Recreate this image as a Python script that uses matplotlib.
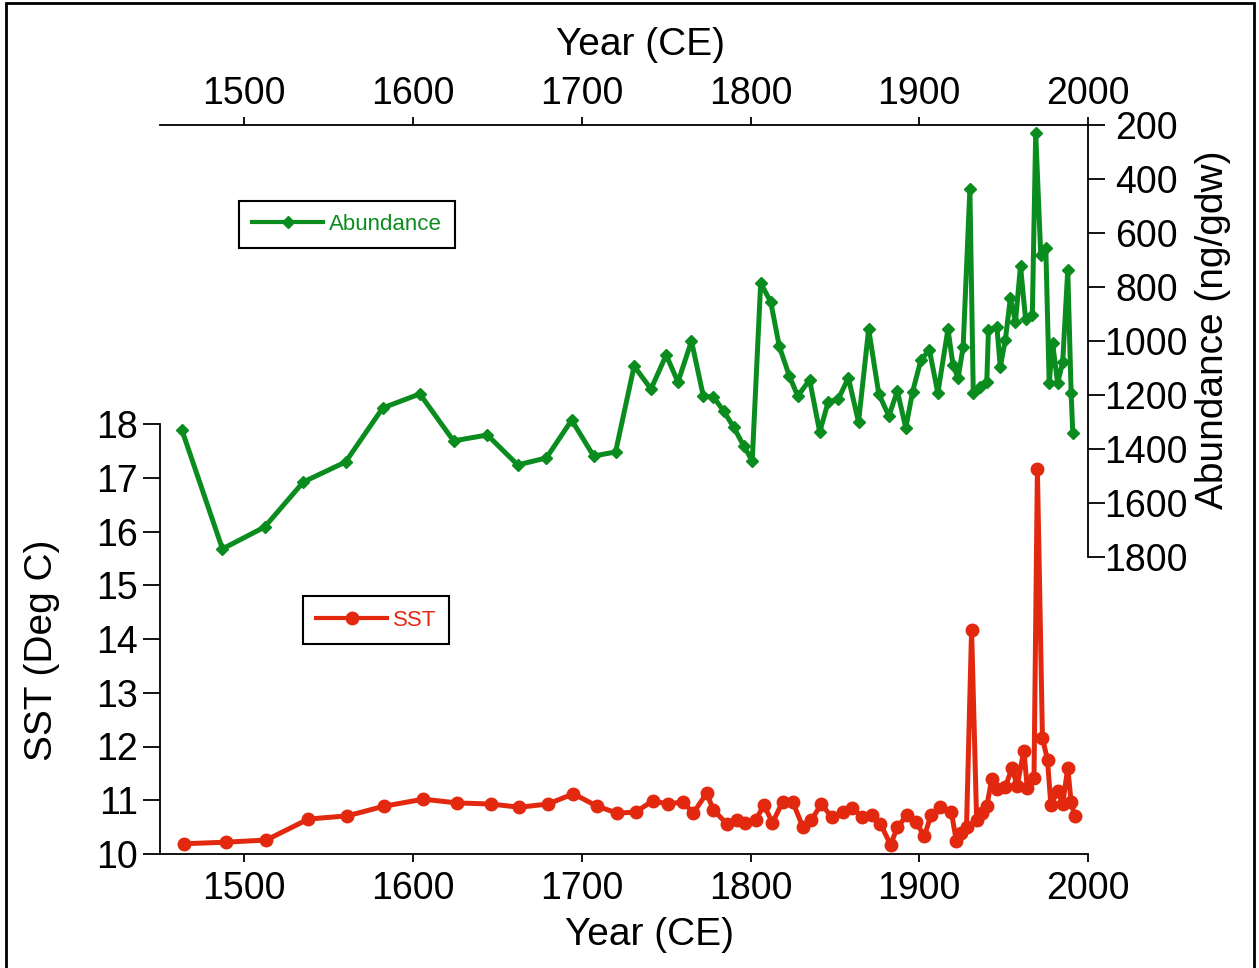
import matplotlib.pyplot as plt
from matplotlib.patches import Rectangle

plt.rcParams['font.family'] = ['Liberation Sans', 'DejaVu Sans']

# SST record (Deg C)
sst_year = [1464, 1489, 1513, 1538, 1561, 1583, 1606, 1626, 1646, 1663,
            1680, 1695, 1709, 1721, 1732, 1742, 1751, 1760, 1766, 1774,
            1778, 1786, 1792, 1797, 1803, 1808, 1813, 1819, 1825, 1831,
            1836, 1842, 1848, 1855, 1860, 1866, 1872, 1877, 1883, 1887,
            1893, 1898, 1903, 1907, 1912, 1919, 1922, 1925, 1928, 1931,
            1934, 1937, 1940, 1943, 1946, 1951, 1955, 1958, 1962, 1964,
            1968, 1970, 1973, 1976, 1978, 1982, 1985, 1988, 1990, 1992]
sst = [10.19, 10.22, 10.26, 10.65, 10.71, 10.89, 11.02, 10.95, 10.93, 10.87,
       10.93, 11.12, 10.89, 10.76, 10.78, 10.99, 10.93, 10.97, 10.76, 11.13,
       10.82, 10.56, 10.63, 10.58, 10.63, 10.91, 10.58, 10.97, 10.97, 10.50,
       10.63, 10.93, 10.69, 10.78, 10.86, 10.69, 10.73, 10.56, 10.17, 10.50,
       10.73, 10.60, 10.33, 10.73, 10.87, 10.78, 10.24, 10.39, 10.50, 14.17,
       10.63, 10.76, 10.89, 11.40, 11.21, 11.25, 11.60, 11.27, 11.92, 11.23,
       11.41, 17.16, 12.16, 11.75, 10.91, 11.17, 10.93, 11.60, 10.97, 10.71]

# Abundance record (ng/gdw)
ab_year = [1463, 1487, 1512, 1535, 1560, 1582, 1604, 1624, 1644, 1662,
           1679, 1694, 1707, 1720, 1731, 1741, 1750, 1757, 1765, 1772,
           1778, 1784, 1790, 1796, 1801, 1806, 1812, 1817, 1823, 1828,
           1835, 1841, 1846, 1852, 1858, 1864, 1870, 1876, 1882, 1887,
           1892, 1896, 1901, 1906, 1911, 1917, 1920, 1923, 1926, 1930,
           1932, 1936, 1940, 1941, 1946, 1948, 1951, 1954, 1957, 1960,
           1963, 1967, 1969, 1972, 1975, 1977, 1979, 1982, 1985, 1988,
           1990, 1991]
abundance = [1330, 1770, 1689, 1522, 1448, 1248, 1196, 1370, 1348, 1459,
             1433, 1293, 1426, 1411, 1093, 1178, 1052, 1152, 1000, 1204,
             1207, 1259, 1319, 1389, 1444, 785, 856, 1019, 1130, 1204,
             1144, 1337, 1226, 1215, 1137, 1300, 956, 1196, 1278, 1185,
             1322, 1189, 1070, 1033, 1193, 956, 1089, 1137, 1022, 437,
             1193, 1170, 1152, 959, 948, 1096, 996, 841, 930, 722,
             919, 904, 230, 681, 656, 1156, 1007, 1156, 1078, 737,
             1193, 1341]

x_ticks = [1500, 1600, 1700, 1800, 1900, 2000]
sst_ticks = list(range(10, 19))
ab_ticks = list(range(200, 1801, 200))

green = '#0b8c1e'
red = '#e2290f'

W, H = 1259, 968
fig = plt.figure(figsize=(W / 100, H / 100), dpi=100)

# lower panel: SST, left/bottom axes
ax1 = fig.add_axes([160 / W, (H - 854) / H, 928 / W, 430 / H])
# upper panel: Abundance, top/right axes, transparent
ax2 = fig.add_axes([160 / W, (H - 557) / H, 928 / W, 432 / H])
ax2.patch.set_visible(False)

ax1.plot(sst_year, sst, color=red, lw=3.6, marker='o', ms=9,
         label='SST', clip_on=False)
ax2.plot(ab_year, abundance, color=green, lw=3.6, marker='D', ms=6.5,
         label='Abundance', clip_on=False)

ax1.set_xlim(1450, 2000)
ax1.set_ylim(10, 18)
ax2.set_xlim(1450, 2000)
ax2.set_ylim(1800, 200)

for s in ['top', 'right']:
    ax1.spines[s].set_visible(False)
for s in ['bottom', 'left']:
    ax2.spines[s].set_visible(False)
for ax in (ax1, ax2):
    for s in ax.spines.values():
        s.set_linewidth(1.3)

ax1.set_xticks(x_ticks)
ax1.set_yticks(sst_ticks)
ax1.tick_params(axis='x', direction='out', length=6, width=1.3,
                labelsize=27, pad=6)
ax1.tick_params(axis='y', direction='out', length=12, width=1.3,
                labelsize=27, pad=4)

ax2.set_xticks(x_ticks)
ax2.set_yticks(ab_ticks)
ax2.xaxis.tick_top()
ax2.yaxis.tick_right()
ax2.tick_params(axis='x', direction='out', length=6, width=1.3,
                labelsize=27, pad=3)
ax2.tick_params(axis='y', direction='out', length=12, width=1.3,
                labelsize=27, pad=30)
for lab in ax2.get_yticklabels():
    lab.set_horizontalalignment('center')

ax1.set_xlabel('Year (CE)', fontsize=28)
ax1.xaxis.label.set_va('center')
ax1.xaxis.set_label_coords(0.528, -0.188)
ax1.set_ylabel('SST (Deg C)', fontsize=28)
ax1.yaxis.label.set_va('center')
ax1.yaxis.set_label_coords(-0.127, 0.474)

ax2.xaxis.set_label_position('top')
ax2.set_xlabel('Year (CE)', fontsize=28)
ax2.xaxis.label.set_va('center')
ax2.xaxis.set_label_coords(0.518, 1.185)
ax2.yaxis.set_label_position('right')
ax2.set_ylabel('Abundance (ng/gdw)', fontsize=28)
ax2.yaxis.label.set_va('center')
ax2.yaxis.set_label_coords(1.135, 0.525)

leg_kw = dict(loc='center', fontsize=16, fancybox=False, edgecolor='black',
              framealpha=1, handlelength=3.2, handletextpad=0.25,
              borderpad=0.6, bbox_transform=fig.transFigure)
leg2 = ax2.legend(bbox_to_anchor=(347 / W, 1 - 224.5 / H), **leg_kw)
leg2.get_frame().set_linewidth(1.5)
leg2.get_texts()[0].set_color(green)
leg2.get_lines()[0].set_linewidth(3)
leg1 = ax1.legend(bbox_to_anchor=(376 / W, 1 - 620 / H), **leg_kw)
leg1.get_frame().set_linewidth(1.5)
leg1.get_texts()[0].set_color(red)
leg1.get_lines()[0].set_linewidth(3)

# outer frame
fig.add_artist(Rectangle((6 / W, -0.01), (1254 - 6) / W, 1.0 - 3 / H + 0.01,
                         transform=fig.transFigure, fill=False,
                         edgecolor='black', lw=2, clip_on=False))

fig.savefig('out.png', dpi=100)
